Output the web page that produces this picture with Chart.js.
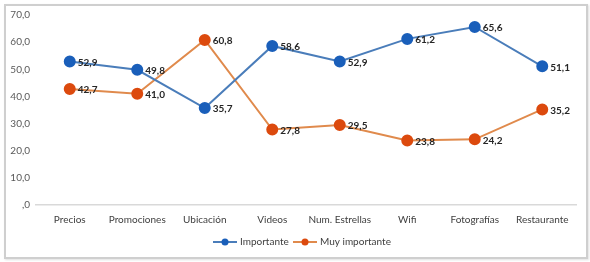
<!DOCTYPE html>
<html><head><meta charset="utf-8">
<script src="https://cdn.jsdelivr.net/npm/chart.js@4/dist/chart.umd.min.js"></script>
<style>
html,body{margin:0;padding:0;background:#fff;}
#wrap{position:relative;width:590px;height:262px;}
#box{position:absolute;left:4px;top:4px;width:580px;height:251px;border:2px solid #cfcfcf;box-shadow:1px 1px 2px #e0e0e0;}
canvas{position:absolute;left:0;top:0;}
</style></head>
<body><div id="wrap"><div id="box"></div><canvas id="c" width="590" height="262"></canvas></div>
<script>
const categories = ["Precios","Promociones","Ubicación","Videos","Num. Estrellas","Wifi","Fotografías","Restaurante"];
const importante = [52.9, 49.8, 35.7, 58.6, 52.9, 61.2, 65.6, 51.1];
const muyImportante = [42.7, 41.0, 60.8, 27.8, 29.5, 23.8, 24.2, 35.2];
const yTicks = [0,10,20,30,40,50,60,70];

const FONT = "Lato, 'Open Sans', sans-serif";
const fmt = v => { const s = v.toFixed(1).replace('.', ','); return s.startsWith('0,') ? s.slice(1) : s; };

const labelPlugin = {
  id: 'labels',
  afterDatasetsDraw(chart) {
    const ctx = chart.ctx;
    ctx.save();
    ctx.font = "bold 10px " + FONT;
    ctx.fillStyle = "#262626";
    ctx.textAlign = "left";
    ctx.textBaseline = "middle";
    chart.data.datasets.forEach((ds, i) => {
      chart.getDatasetMeta(i).data.forEach((pt, j) => {
        ctx.fillText(fmt(ds.data[j]), pt.x + 8, pt.y + 1);
      });
    });
    ctx.restore();
  },
  afterDraw(chart) {
    const ctx = chart.ctx;
    ctx.save();
    ctx.font = "10px " + FONT;
    ctx.textBaseline = "middle";
    const y = 242;
    const starts = [213, 293];
    chart.data.datasets.forEach((ds, i) => {
      const x = starts[i];
      ctx.strokeStyle = ds.borderColor; ctx.lineWidth = 2;
      ctx.beginPath(); ctx.moveTo(x, y); ctx.lineTo(x + 24, y); ctx.stroke();
      ctx.fillStyle = ds.pointBackgroundColor;
      ctx.beginPath(); ctx.arc(x + 12, y, 3.5, 0, Math.PI * 2); ctx.fill();
      ctx.fillStyle = "#404040";
      ctx.fillText(ds.label, x + 27, y);
    });
    ctx.restore();
  }
};

new Chart(document.getElementById('c'), {
  type: 'line',
  data: {
    labels: categories,
    datasets: [
      { label: 'Importante', data: importante, borderColor: '#4a7dba', borderWidth: 2,
        pointBackgroundColor: '#1a5fba', pointBorderColor: '#1a5fba', pointRadius: 5, tension: 0 },
      { label: 'Muy importante', data: muyImportante, borderColor: '#e08a4c', borderWidth: 2,
        pointBackgroundColor: '#dc4a0e', pointBorderColor: '#dc4a0e', pointRadius: 5, tension: 0 }
    ]
  },
  options: {
    responsive: false, animation: false,
    layout: { padding: { left: 0, right: 14, top: 15, bottom: 0 } },
    plugins: { legend: { display: false }, tooltip: { enabled: false } },
    scales: {
      x: {
        offset: true,
        grid: { display: false, drawTicks: false, offset: true },
        border: { display: true, color: '#d9d9d9', width: 1.5 },
        ticks: { font: { family: FONT, size: 10 }, color: '#404040', padding: 9, maxRotation: 0 },
        afterFit: s => { s.height = 57; }
      },
      y: {
        min: 0, max: 70,
        afterBuildTicks: s => { s.ticks = yTicks.map(v => ({ value: v })); },
        grid: { display: false, drawTicks: false },
        border: { display: false },
        ticks: { font: { family: FONT, size: 10 }, color: '#595959', padding: 6, callback: v => fmt(v) },
        afterFit: s => { s.width = 36; }
      }
    }
  },
  plugins: [labelPlugin]
});
</script></body></html>
